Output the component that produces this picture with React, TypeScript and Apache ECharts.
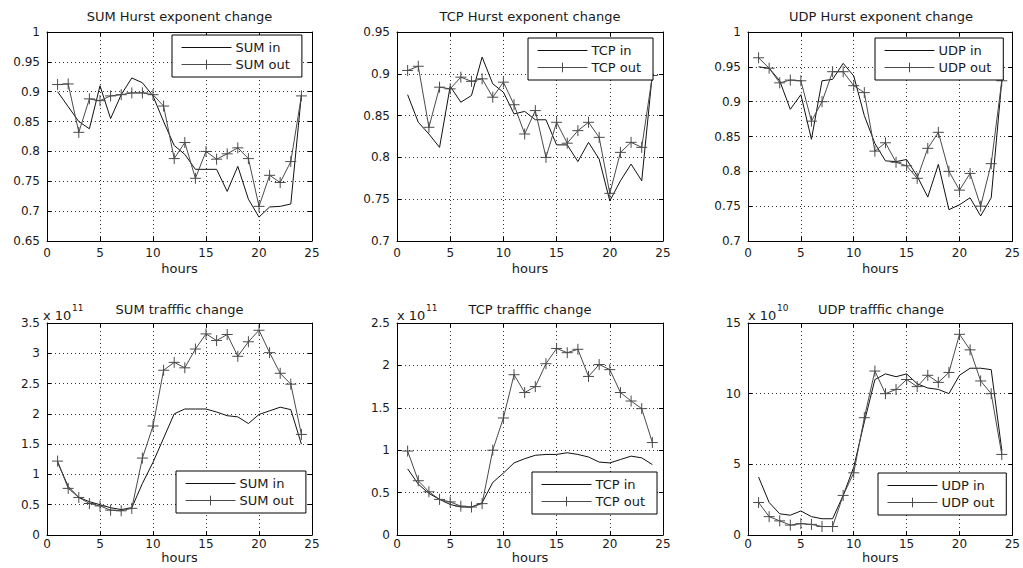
import React, { useEffect, useRef } from "react";
import * as echarts from "echarts";

const hours = [1, 2, 3, 4, 5, 6, 7, 8, 9, 10, 11, 12, 13, 14, 15, 16, 17, 18, 19, 20, 21, 22, 23, 24];
const xTicks = { min: 0, max: 25, interval: 5 };

const sumHurstIn = [0.900, 0.875, 0.850, 0.838, 0.910, 0.855, 0.895, 0.923, 0.915, 0.893, 0.850, 0.810, 0.795, 0.770, 0.770, 0.770, 0.733, 0.775, 0.720, 0.690, 0.707, 0.708, 0.712, 0.895];
const sumHurstOut = [0.912, 0.913, 0.832, 0.888, 0.885, 0.893, 0.895, 0.898, 0.898, 0.895, 0.876, 0.788, 0.815, 0.755, 0.800, 0.787, 0.796, 0.806, 0.788, 0.708, 0.760, 0.748, 0.783, 0.893];
const tcpHurstIn = [0.875, 0.842, 0.828, 0.812, 0.885, 0.866, 0.874, 0.920, 0.888, 0.878, 0.852, 0.855, 0.845, 0.845, 0.815, 0.815, 0.795, 0.818, 0.798, 0.748, 0.772, 0.792, 0.772, 0.900];
const tcpHurstOut = [0.904, 0.909, 0.836, 0.884, 0.882, 0.896, 0.891, 0.894, 0.872, 0.890, 0.863, 0.828, 0.856, 0.800, 0.842, 0.817, 0.832, 0.842, 0.824, 0.757, 0.806, 0.818, 0.812, 0.898];
const udpHurstIn = [0.950, 0.948, 0.930, 0.889, 0.910, 0.846, 0.930, 0.932, 0.955, 0.937, 0.880, 0.840, 0.815, 0.814, 0.817, 0.793, 0.763, 0.810, 0.745, 0.752, 0.762, 0.736, 0.762, 0.930];
const udpHurstOut = [0.963, 0.948, 0.927, 0.931, 0.930, 0.872, 0.900, 0.943, 0.943, 0.923, 0.913, 0.829, 0.841, 0.813, 0.808, 0.790, 0.833, 0.856, 0.800, 0.773, 0.797, 0.750, 0.811, 0.930];

// traffic in units of 1e11 (SUM, TCP) and 1e10 (UDP)
const sumTrafficIn = [1.20, 0.80, 0.62, 0.55, 0.50, 0.45, 0.42, 0.45, 0.85, 1.20, 1.60, 2.00, 2.08, 2.08, 2.08, 2.03, 1.97, 1.95, 1.84, 1.99, 2.05, 2.11, 2.07, 1.50];
const sumTrafficOut = [1.22, 0.77, 0.62, 0.52, 0.48, 0.41, 0.40, 0.44, 1.27, 1.80, 2.72, 2.85, 2.76, 3.07, 3.32, 3.21, 3.31, 2.95, 3.19, 3.38, 3.01, 2.67, 2.49, 1.66];
const tcpTrafficIn = [0.78, 0.60, 0.49, 0.42, 0.36, 0.33, 0.33, 0.38, 0.62, 0.73, 0.85, 0.90, 0.94, 0.95, 0.95, 0.97, 0.95, 0.92, 0.86, 0.85, 0.89, 0.93, 0.91, 0.83];
const tcpTrafficOut = [0.99, 0.64, 0.51, 0.42, 0.39, 0.34, 0.33, 0.37, 1.00, 1.38, 1.89, 1.68, 1.75, 2.02, 2.20, 2.15, 2.19, 1.87, 2.01, 1.95, 1.68, 1.58, 1.49, 1.09];
const udpTrafficIn = [4.1, 2.3, 1.5, 1.4, 1.7, 1.3, 1.15, 1.15, 2.8, 4.8, 8.0, 11.0, 11.4, 11.2, 11.4, 10.7, 10.4, 10.3, 10.0, 11.3, 11.8, 11.8, 11.7, 6.0];
const udpTrafficOut = [2.3, 1.3, 1.0, 0.7, 0.8, 0.75, 0.6, 0.6, 2.8, 4.4, 8.3, 11.6, 10.0, 10.3, 11.0, 10.5, 11.3, 10.8, 11.5, 14.2, 13.1, 10.9, 10.0, 5.7];

const titles = [
  "SUM Hurst exponent change",
  "TCP Hurst exponent change",
  "UDP Hurst exponent change",
  "SUM trafffic change",
  "TCP trafffic change",
  "UDP trafffic change",
];
const inNames = ["SUM in", "TCP in", "UDP in", "SUM in", "TCP in", "UDP in"];
const outNames = ["SUM out", "TCP out", "UDP out", "SUM out", "TCP out", "UDP out"];
const inSeries = [sumHurstIn, tcpHurstIn, udpHurstIn, sumTrafficIn, tcpTrafficIn, udpTrafficIn];
const outSeries = [sumHurstOut, tcpHurstOut, udpHurstOut, sumTrafficOut, tcpTrafficOut, udpTrafficOut];
const yRanges = [
  { min: 0.65, max: 1, interval: 0.05 },
  { min: 0.7, max: 0.95, interval: 0.05 },
  { min: 0.7, max: 1, interval: 0.05 },
  { min: 0, max: 3.5, interval: 0.5 },
  { min: 0, max: 2.5, interval: 0.5 },
  { min: 0, max: 15, interval: 5 },
];
const exponents = [null, null, null, "11", "11", "10"];
const xName = "hours";

// layout
const grids = [
  { left: 47, top: 32, width: 265, height: 209 },
  { left: 397, top: 32, width: 266, height: 209 },
  { left: 748, top: 32, width: 266, height: 209 },
  { left: 47, top: 323, width: 265, height: 212 },
  { left: 397, top: 323, width: 266, height: 212 },
  { left: 748, top: 323, width: 266, height: 212 },
];
const legendPos = [
  { left: 172, top: 35 },
  { left: 528, top: 38 },
  { left: 875, top: 38 },
  { left: 176, top: 471 },
  { left: 532, top: 472 },
  { left: 878, top: 473 },
];

const FONT = "DejaVu Sans";
const TXT = "#1a1a1a";
const IN_COLOR = "#111111";
const OUT_COLOR = "#4a4a4a";
const PLUS = "path://M10,0 L10,20 M0,10 L20,10";

const fmt = (v: number) => String(parseFloat(v.toFixed(2)));

export default function App() {
  const ref = useRef<HTMLDivElement>(null);
  useEffect(() => {
    if (!ref.current) return;
    const chart = echarts.init(ref.current, null, { renderer: "svg" });
    const xAxes: any[] = [];
    const yAxes: any[] = [];
    const series: any[] = [];
    const legends: any[] = [];
    const graphics: any[] = [];

    grids.forEach((g, i) => {
      const top = i < 3;
      xAxes.push({
        type: "value",
        gridIndex: i,
        position: "bottom",
        ...xTicks,
        name: xName,
        nameLocation: "middle",
        nameGap: top ? 21 : 13,
        nameTextStyle: { fontFamily: FONT, fontSize: 13, color: TXT },
        axisLine: { show: true, onZero: false, lineStyle: { color: "#000", width: 1 } },
        axisTick: { show: true, inside: true, length: 4, lineStyle: { color: "#000" } },
        axisLabel: { show: true, margin: top ? 6 : 3, fontFamily: FONT, fontSize: 12, color: TXT },
        splitLine: { show: true, lineStyle: { type: [1, 3], color: "#333", width: 1 } },
      });
      xAxes.push({
        type: "value",
        gridIndex: i,
        position: "top",
        ...xTicks,
        axisLine: { show: true, onZero: false, lineStyle: { color: "#000", width: 1 } },
        axisTick: { show: true, inside: true, length: 4, lineStyle: { color: "#000" } },
        axisLabel: { show: false },
        splitLine: { show: false },
      });
      yAxes.push({
        type: "value",
        gridIndex: i,
        position: "left",
        ...yRanges[i],
        axisLine: { show: true, onZero: false, lineStyle: { color: "#000", width: 1 } },
        axisTick: { show: true, inside: true, length: 4, lineStyle: { color: "#000" } },
        axisLabel: { show: true, margin: 7, fontFamily: FONT, fontSize: 12, color: TXT, formatter: fmt },
        splitLine: { show: true, lineStyle: { type: [1, 3], color: "#333", width: 1 } },
      });
      yAxes.push({
        type: "value",
        gridIndex: i,
        position: "right",
        ...yRanges[i],
        axisLine: { show: true, onZero: false, lineStyle: { color: "#000", width: 1 } },
        axisTick: { show: true, inside: true, length: 4, lineStyle: { color: "#000" } },
        axisLabel: { show: false },
        splitLine: { show: false },
      });

      series.push({
        type: "line",
        name: inNames[i],
        xAxisIndex: 2 * i,
        yAxisIndex: 2 * i,
        data: hours.map((h, k) => [h, inSeries[i][k]]),
        symbol: "none",
        lineStyle: { color: IN_COLOR, width: 1 },
        itemStyle: { color: IN_COLOR },
      });
      series.push({
        type: "line",
        name: outNames[i],
        xAxisIndex: 2 * i,
        yAxisIndex: 2 * i,
        data: hours.map((h, k) => [h, outSeries[i][k]]),
        symbol: PLUS,
        symbolSize: 11,
        lineStyle: { color: OUT_COLOR, width: 1 },
        itemStyle: { color: "transparent", borderColor: OUT_COLOR, borderWidth: 1 },
      });

      legends.push({
        left: legendPos[i].left,
        top: legendPos[i].top,
        orient: "vertical",
        data: [
          {
            name: inNames[i],
            itemStyle: { color: "transparent", borderColor: "transparent", borderWidth: 0 },
            lineStyle: { color: IN_COLOR, width: 1 },
          },
          {
            name: outNames[i],
            itemStyle: { color: "transparent", borderColor: OUT_COLOR, borderWidth: 1 },
            lineStyle: { color: OUT_COLOR, width: 1 },
          },
        ],
        itemWidth: 50,
        itemHeight: 12,
        itemGap: 4,
        padding: [6, 12, 6, 9],
        backgroundColor: "#fff",
        borderColor: "#000",
        borderWidth: 1,
        borderRadius: 0,
        selectedMode: false,
        textStyle: { fontFamily: FONT, fontSize: 13, color: TXT, padding: [0, 0, 0, -1] },
      });

      graphics.push({
        type: "text",
        x: g.left + g.width / 2,
        y: top ? 16 : 309,
        style: {
          text: titles[i],
          align: "center",
          verticalAlign: "middle",
          fontFamily: FONT,
          fontSize: 13,
          fill: TXT,
        },
      });
      const ex = exponents[i];
      if (ex) {
        const x0 = g.left - (i === 3 ? 4 : 0);
        graphics.push({
          type: "text",
          x: x0,
          y: 315,
          style: { text: "x 10", align: "left", verticalAlign: "middle", fontFamily: FONT, fontSize: 13, fill: TXT },
        });
        graphics.push({
          type: "text",
          x: x0 + 29,
          y: 308,
          style: { text: ex, align: "left", verticalAlign: "middle", fontFamily: FONT, fontSize: 9, fill: TXT },
        });
      }
    });

    chart.setOption({
      animation: false,
      backgroundColor: "#fff",
      grid: grids.map((g) => ({ ...g, show: false, containLabel: false })),
      xAxis: xAxes,
      yAxis: yAxes,
      series,
      legend: legends,
      graphic: graphics,
    });
    return () => chart.dispose();
  }, []);
  return (
    <div
      ref={ref}
      style={{ position: "fixed", left: 0, top: 0, width: 1023, height: 568, background: "#fff" }}
    />
  );
}
